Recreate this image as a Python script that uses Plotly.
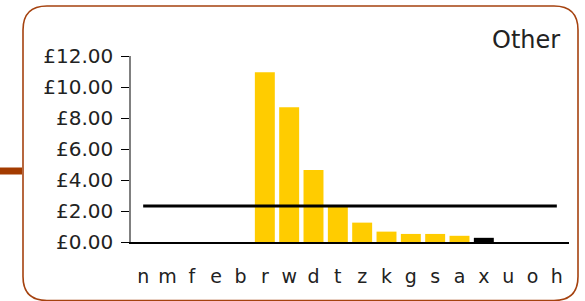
import plotly.graph_objects as go

categories = ["n", "m", "f", "e", "b", "r", "w", "d", "t", "z", "k", "g", "s", "a", "x", "u", "o", "h"]
values = [None, None, None, None, None, 10.95, 8.70, 4.65, 2.28, 1.25, 0.67, 0.52, 0.52, 0.40, 0.27, None, None, None]
average_value = 2.32
highlight = "x"
y_ticks = [0, 2, 4, 6, 8, 10, 12]
y_tick_labels = ["£0.00", "£2.00", "£4.00", "£6.00", "£8.00", "£10.00", "£12.00"]
panel_title = "Other"

W, H = 585, 301
L, R, T, B = 131, 16, 56, 59
PW, PH = W - L - R, H - T - B

def px(x):
    return (x - L) / PW

def py(y):
    return (H - B - y) / PH

bar_colors = ["#000000" if c == highlight else "#FFCC00" for c in categories]

fig = go.Figure()
fig.add_trace(go.Bar(x=categories, y=values, marker=dict(color=bar_colors, line=dict(width=0)),
                     hoverinfo="x+y"))
fig.add_trace(go.Scatter(x=categories, y=[average_value] * len(categories), mode="lines",
                         line=dict(color="#000000", width=3), hoverinfo="skip"))

# rounded border
x0, x1, y0, y1, r = 23, 578, 6, 300.5, 24
path = (f"M {px(x0)},{py(y0 + r)} "
        f"Q {px(x0)},{py(y0)} {px(x0 + r)},{py(y0)} "
        f"L {px(x1 - r)},{py(y0)} "
        f"Q {px(x1)},{py(y0)} {px(x1)},{py(y0 + r)} "
        f"L {px(x1)},{py(y1 - r)} "
        f"Q {px(x1)},{py(y1)} {px(x1 - r)},{py(y1)} "
        f"L {px(x0 + r)},{py(y1)} "
        f"Q {px(x0)},{py(y1)} {px(x0)},{py(y1 - r)} Z")
shapes = [
    dict(type="path", xref="paper", yref="paper", path=path,
         line=dict(color="#A5420F", width=1.6), fillcolor="rgba(0,0,0,0)", layer="below"),
    dict(type="line", xref="paper", yref="paper", x0=px(0), x1=px(22), y0=py(171), y1=py(171),
         line=dict(color="#A33B00", width=7)),
]

font = "DejaVu Sans"
fig.update_layout(
    width=W, height=H,
    margin=dict(l=L, r=R, t=T, b=B, pad=0),
    paper_bgcolor="white", plot_bgcolor="white",
    showlegend=False, bargap=0.18,
    shapes=shapes,
    annotations=[dict(text=panel_title, xref="paper", yref="paper", x=px(562), y=py(40),
                      xanchor="right", yanchor="middle", showarrow=False,
                      font=dict(family=font, size=24, color="#222222"))],
    xaxis=dict(type="category", categoryorder="array", categoryarray=categories,
               showline=True, linecolor="#000000", linewidth=1.5, showgrid=False,
               ticks="", tickfont=dict(family=font, size=19, color="#222222"),
               ticklabelstandoff=16, zeroline=False),
    yaxis=dict(range=[0, 12], tickmode="array", tickvals=y_ticks, ticktext=y_tick_labels,
               showline=True, linecolor="#808080", linewidth=1.5, showgrid=False,
               ticks="outside", ticklen=8, tickcolor="#000000", tickwidth=1.3,
               tickfont=dict(family=font, size=20, color="#222222"),
               ticklabelstandoff=4, zeroline=False),
)

fig.write_html("out.html", config={"displayModeBar": False},
               post_script="document.body.style.margin='0';document.body.style.overflow='hidden';")
